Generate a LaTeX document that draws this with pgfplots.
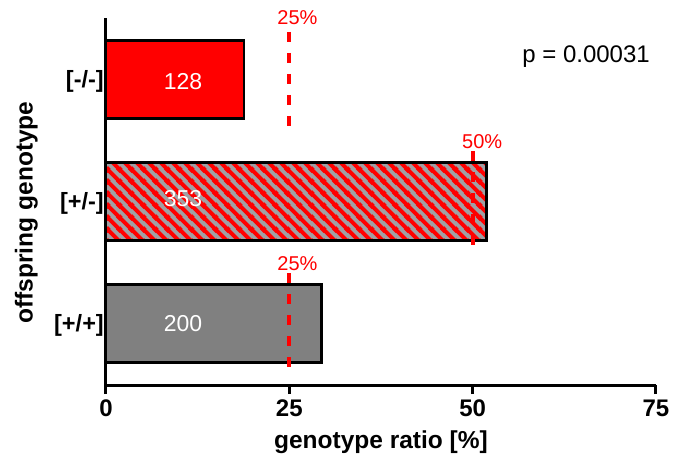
\documentclass[border=0pt]{standalone}
\usepackage{fontspec}
\setmainfont{Liberation Sans}
\usepackage{pgfplots}
\pgfplotsset{compat=1.18}
\usetikzlibrary{patterns}
\definecolor{hatchgray}{RGB}{160,160,164}
\definecolor{bargray}{RGB}{128,128,128}
\newcommand\fs[1]{\fontsize{#1}{#1}\selectfont}
\pgfdeclarepatternformonly{redstripes}{\pgfqpoint{0pt}{0pt}}{\pgfqpoint{12pt}{12pt}}{\pgfqpoint{12pt}{12pt}}{%
  \pgfsetlinewidth{4.2pt}%
  \pgfpathmoveto{\pgfqpoint{-1pt}{13pt}}\pgfpathlineto{\pgfqpoint{13pt}{-1pt}}%
  \pgfpathmoveto{\pgfqpoint{-2pt}{2pt}}\pgfpathlineto{\pgfqpoint{2pt}{-2pt}}%
  \pgfpathmoveto{\pgfqpoint{10pt}{14pt}}\pgfpathlineto{\pgfqpoint{14pt}{10pt}}%
  \pgfusepath{stroke}}
\begin{document}
\begin{tikzpicture}
\useasboundingbox (-106pt,-71pt) rectangle (579pt,385pt);
\begin{axis}[
  at={(0pt,0pt)}, anchor=south west,
  scale only axis, width=550pt, height=367pt,
  xmin=0, xmax=75, ymin=-0.5, ymax=2.5,
  axis lines*=left,
  axis line style={line width=3pt},
  xtick={0,25,50,75},
  ytick={0,1,2},
  yticklabels={{[+/+]},{[+/-]},{[-/-]}},
  tick align=outside,
  major tick length=9pt,
  xtick style={line width=3pt, black},
  ytick style={draw=none},
  /pgf/number format/assume math mode=true,
  xticklabel style={font=\fs{24}\bfseries, yshift=-2pt},
  yticklabel style={font=\fs{23.5}\bfseries, inner sep=1pt, xshift=8pt, yshift=-2pt},
  xlabel={genotype ratio [\%]},
  ylabel={offspring genotype},
  xlabel style={font=\fs{24.5}\bfseries, at={(axis description cs:0.5,-0.1717)}, anchor=base},
  ylabel style={font=\fs{24.5}\bfseries, at={(axis description cs:-0.145,0.47)}, anchor=center},
  clip=false,
]
% bars
\addplot[xbar, bar width=78pt, bar shift=0pt, fill=red, draw=black, line width=2.7pt]
  coordinates {(18.80,2)};
\addplot[xbar, bar width=78pt, bar shift=0pt, fill=hatchgray, draw=black, line width=2.7pt,
  postaction={pattern=redstripes, pattern color=red}]
  coordinates {(51.84,1)};
\addplot[xbar, bar width=78pt, bar shift=0pt, fill=bargray, draw=black, line width=2.7pt]
  coordinates {(29.37,0)};
% redraw hatched bar border on top
\addplot[xbar, bar width=78pt, bar shift=0pt, fill=none, draw=black, line width=2.7pt]
  coordinates {(51.84,1)};
% expected ratios
\addplot[red, line width=4.2pt, dash pattern=on 10pt off 11pt] coordinates {(25,2.386) (25,1.601)};
\addplot[red, line width=4.2pt, dash pattern=on 10pt off 11pt] coordinates {(50,1.412) (50,0.603)};
\addplot[red, line width=4.2pt, dash pattern=on 10pt off 11pt] coordinates {(25,0.415) (25,-0.378)};
% labels
\node[red, font=\fs{20}, anchor=base] at (axis cs:26.1,2.443) {25\%};
\node[red, font=\fs{20}, anchor=base] at (axis cs:51.3,1.437) {50\%};
\node[red, font=\fs{20}, anchor=base] at (axis cs:26.1,0.44) {25\%};
\node[white, font=\fs{23}, anchor=center, inner sep=0pt] at (axis cs:10.5,1.98) {128};
\node[white, font=\fs{23}, anchor=center, inner sep=0pt] at (axis cs:10.5,1.02) {353};
\node[white, font=\fs{23}, anchor=center, inner sep=0pt] at (axis cs:10.5,0) {200};
\node[black, font=\fs{24}, anchor=base east, inner sep=0pt] at (axis cs:74.18,2.14) {p = 0.00031};
\end{axis}
\end{tikzpicture}
\end{document}
